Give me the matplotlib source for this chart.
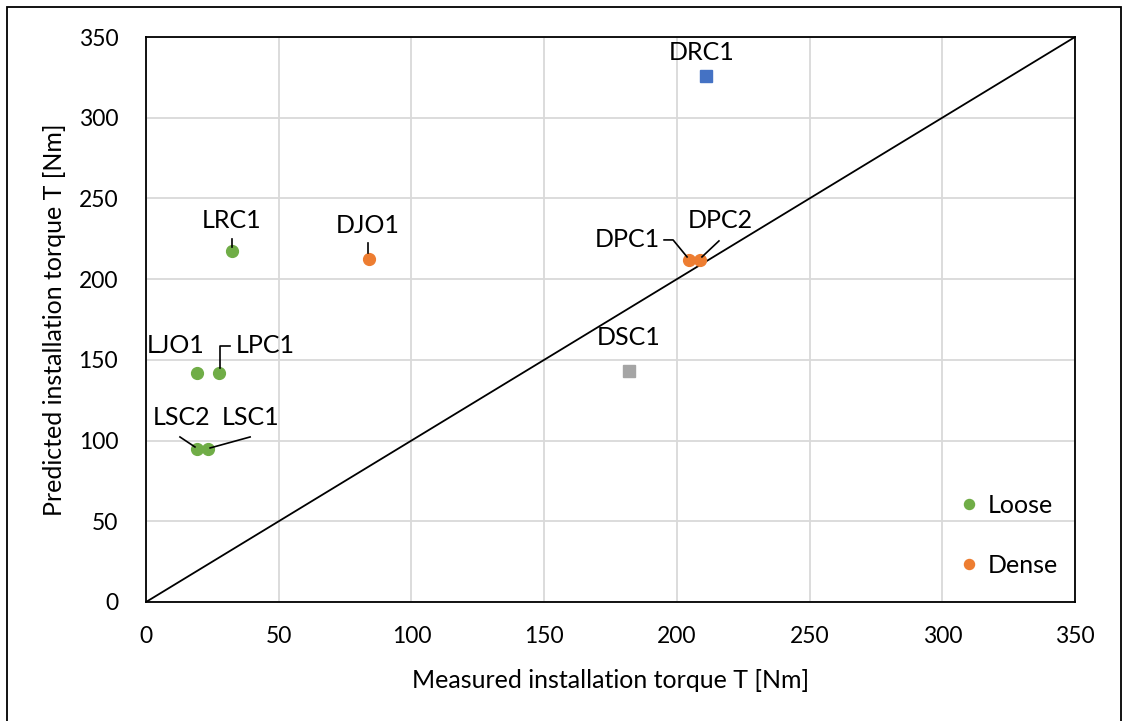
import matplotlib
matplotlib.use("Agg")
import matplotlib.pyplot as plt
import matplotlib.transforms as mtransforms
from matplotlib.patches import Rectangle

# ---- data ----
loose_names = ["LRC1", "LJO1", "LPC1", "LSC2", "LSC1"]
loose_measured = [32.4, 19.2, 27.5, 19.2, 23.4]
loose_predicted = [217.5, 141.9, 141.9, 94.8, 94.8]

dense_names = ["DJO1", "DPC1", "DPC2"]
dense_measured = [84.0, 204.6, 208.7]
dense_predicted = [212.5, 211.9, 211.9]

drc_name = ["DRC1"]
drc_measured = [211.0]
drc_predicted = [325.9]

dsc_name = ["DSC1"]
dsc_measured = [182.0]
dsc_predicted = [143.1]

ticks = [0, 50, 100, 150, 200, 250, 300, 350]
legend_labels = ["Loose", "Dense"]

GREEN = "#70AD47"
ORANGE = "#ED7D31"
BLUE = "#4472C4"
GREY = "#A5A5A5"

plt.rcParams['font.family'] = ['Lato', 'DejaVu Sans']
TXT = 18
TICK = 16.5

W, H = 1123, 721
fig = plt.figure(figsize=(W / 100, H / 100), dpi=100)
ax = fig.add_axes([146 / W, (H - 602) / H, (1075 - 146) / W, (602 - 37) / H])

ax.set_xlim(0, 350)
ax.set_ylim(0, 350)
ax.set_xticks(ticks)
ax.set_yticks(ticks)
ax.grid(True, color="#D9D9D9", linewidth=1.3)
ax.set_axisbelow(True)
for s in ax.spines.values():
    s.set_color("black")
    s.set_linewidth(1.3)
ax.tick_params(length=0, labelsize=TICK)
ax.tick_params(axis="y", pad=20)
ax.tick_params(axis="x", pad=17)

# 1:1 line
ax.plot([0, 350], [0, 350], color="black", linewidth=1.3, zorder=2)

ax.plot(loose_measured, loose_predicted, "o", color=GREEN, markersize=8.5,
        linestyle="none", label=legend_labels[0], zorder=3)
ax.plot(dense_measured, dense_predicted, "o", color=ORANGE, markersize=8.5,
        linestyle="none", label=legend_labels[1], zorder=3)
ax.plot(drc_measured, drc_predicted, "s", color=BLUE, markersize=9,
        linestyle="none", zorder=3)
ax.plot(dsc_measured, dsc_predicted, "s", color=GREY, markersize=9,
        linestyle="none", zorder=3)

ax.set_xlabel("Measured installation torque T [Nm]", fontsize=TXT, va="center")
ax.set_ylabel("Predicted installation torque T [Nm]", fontsize=TXT, va="center")
ax.xaxis.set_label_coords(0.5, (602 - 681) / 565)
ax.yaxis.set_label_coords((55 - 146) / 929, 0.5)

# label offsets in pixels (dx, dy) and leader-line vertices
label_offsets = {
    "LRC1": (0, 30), "DJO1": (-1, 33), "LJO1": (-21, 27), "LPC1": (46, 27),
    "LSC2": (-15, 31), "LSC1": (42, 31), "DPC1": (-62, 20), "DPC2": (20, 39),
    "DSC1": (0, 33), "DRC1": (-4, 23),
}
leaders = {
    "LRC1": [(0, 12), (0, 4)],
    "DJO1": [(-1, 16), (-1, 6)],
    "LPC1": [(1, 5), (1, 27), (11, 27)],
    "LSC2": [(-17, 12), (-2, 2)],
    "LSC1": [(42, 12), (2, 1)],
    "DPC1": [(-25, 20), (-16, 20), (-2, 3)],
    "DPC2": [(19, 19), (2, 3)],
}

allpts = []
for names, xs, ys in [(loose_names, loose_measured, loose_predicted),
                      (dense_names, dense_measured, dense_predicted),
                      (drc_name, drc_measured, drc_predicted),
                      (dsc_name, dsc_measured, dsc_predicted)]:
    for n, x, y in zip(names, xs, ys):
        allpts.append((n, x, y))

for n, x, y in allpts:
    dx, dy = label_offsets[n]
    ax.annotate(n, xy=(x, y), xytext=(dx, dy), textcoords="offset pixels",
                ha="center", va="center", fontsize=TXT, zorder=4)
    if n in leaders:
        tr = mtransforms.Affine2D() + mtransforms.ScaledTranslation(x, y, ax.transData)
        vx = [p[0] for p in leaders[n]]
        vy = [p[1] for p in leaders[n]]
        ax.plot(vx, vy, color="black", linewidth=1.2, transform=tr,
                clip_on=False, zorder=4)

leg = ax.legend(loc="center left", bbox_to_anchor=((946 - 146) / 929, 0.118),
                frameon=False, fontsize=TXT, labelspacing=1.5, handlelength=0.8,
                handletextpad=0.35, borderpad=0, markerscale=0.85)

# outer chart border
fig.patches.append(Rectangle((7 / W, -0.01), (1121 - 7) / W, (H - 7) / H + 0.01,
                             transform=fig.transFigure, fill=False,
                             edgecolor="black", linewidth=1.3))

fig.savefig("out.png", dpi=100)
